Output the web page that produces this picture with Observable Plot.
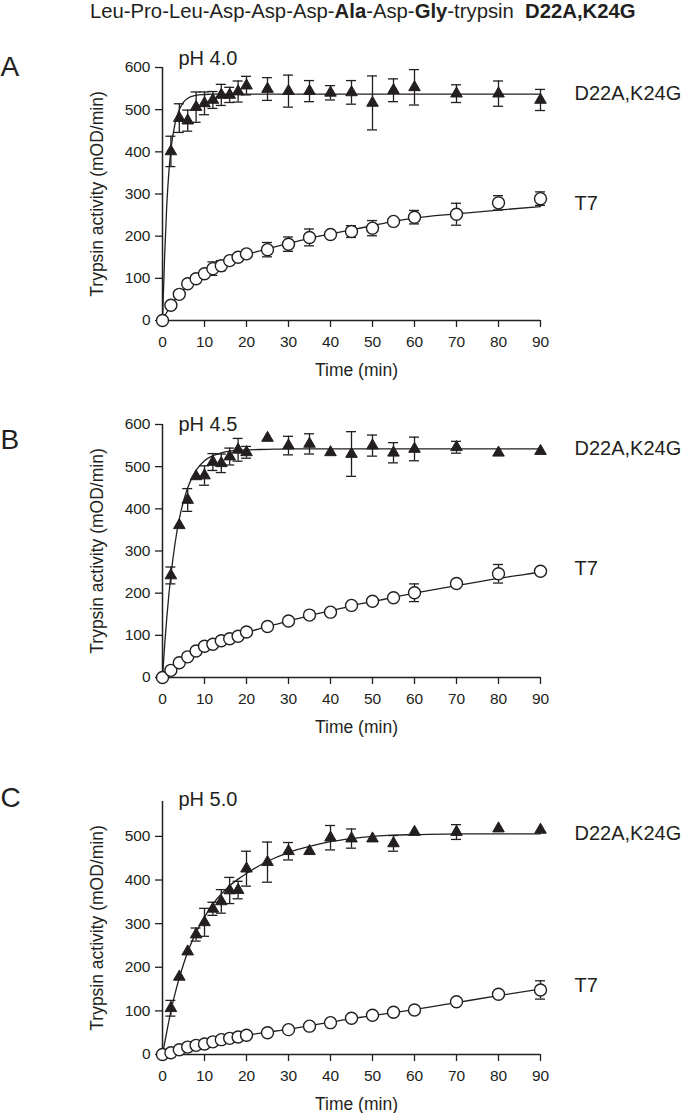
<!DOCTYPE html>
<html><head><meta charset="utf-8">
<script src="https://cdn.jsdelivr.net/npm/d3@7"></script>
<script src="https://cdn.jsdelivr.net/npm/@observablehq/plot@0.6"></script>
<style>
body{margin:0;background:#fff;overflow:hidden;}
#root{position:relative;width:685px;height:1113px;font-family:"Liberation Sans",Arial,Helvetica,sans-serif;color:#231f20;overflow:hidden;}
#title{position:absolute;top:0;left:90px;font-size:20.3px;white-space:nowrap;line-height:22px;}
.panel{position:absolute;left:0;}
</style></head>
<body><div id="root"><div id="title">Leu-Pro-Leu-Asp-Asp-Asp-<b>Ala</b>-Asp-<b>Gly</b>-trypsin&nbsp; <b>D22A,K24G</b></div></div>
<script>
// ---- data ----
const times    = [0, 2, 4, 6, 8, 10, 12, 14, 16, 18, 20, 25, 30, 35, 40, 45, 50, 55, 60, 70, 80, 90];
const triTimes = [2, 4, 6, 8, 10, 12, 14, 16, 18, 20, 25, 30, 35, 40, 45, 50, 55, 60, 70, 80, 90];
const xTicks   = [0, 10, 20, 30, 40, 50, 60, 70, 80, 90];
const yTicksAB = [0, 100, 200, 300, 400, 500, 600];
const yTicksC  = [0, 100, 200, 300, 400, 500];
const seriesNames = ["D22A,K24G", "T7"];
const phLabels = ["pH 4.0", "pH 4.5", "pH 5.0"];
const panelLetters = ["A", "B", "C"];
const yLabel = "Trypsin activity (mOD/min)";
const xLabel = "Time (min)";

// pH 4.0
const triA     = [401, 480, 474, 506, 515, 523, 535, 535, 543, 557, 549, 544, 544, 540, 541, 516, 546, 553, 538, 538, 523];
const triAErr  = [36, 34, 25, 36, 27, 20, 25, 18, 25, 22, 27, 38, 25, 17, 28, 64, 27, 42, 21, 30, 25];
const circA    = [0, 36, 62, 87, 99, 111, 123, 130, 142, 150, 158, 168, 181, 197, 204, 211, 219, 235, 245, 252, 279, 289];
const circAErr = [0, 0, 0, 0, 0, 0, 16, 12, 0, 0, 0, 17, 17, 20, 0, 14, 18, 0, 16, 26, 17, 16];
// pH 4.5
const triB     = [242, 361, 421, 477, 479, 511, 508, 524, 540, 534, 568, 550, 554, 534, 530, 550, 533, 542, 546, 533, 537];
const triBErr  = [20, 0, 27, 0, 23, 20, 22, 20, 27, 14, 0, 22, 24, 0, 53, 25, 24, 28, 14, 0, 0];
const circB    = [0, 17, 35, 49, 63, 74, 79, 87, 92, 98, 108, 121, 134, 148, 155, 171, 181, 189, 201, 223, 246, 252];
const circBErr = [0, 0, 0, 0, 0, 0, 0, 0, 0, 0, 0, 0, 0, 0, 0, 0, 0, 0, 21, 0, 22, 0];
// pH 5.0
const triC     = [106, 178, 236, 275, 303, 334, 351, 376, 377, 426, 441, 466, 466, 497, 495, 495, 484, 510, 510, 518, 515];
const triCErr  = [18, 0, 0, 15, 32, 15, 27, 30, 20, 40, 46, 20, 0, 28, 22, 0, 18, 0, 17, 0, 0];
const circC    = [0, 4, 11, 17, 21, 24, 29, 34, 37, 40, 44, 50, 57, 65, 73, 83, 90, 97, 102, 121, 138, 148];
const circCErr = [0, 0, 0, 0, 0, 0, 0, 0, 0, 0, 0, 0, 0, 0, 0, 0, 0, 0, 0, 0, 0, 21];

// fitted curves
const fitT     = [0, 0.5, 1, 1.5, 2, 3, 4, 5, 6, 8, 10, 12, 14, 16, 18, 20, 25, 30, 35, 40, 45, 50, 55, 60, 70, 80, 90];
const fitTriA  = [0, 150, 270, 350, 405, 468, 500, 518, 527, 534, 536, 537, 537, 537, 537, 537, 537, 537, 537, 537, 537, 537, 537, 537, 537, 537, 537];
const fitCircA = [0, 10, 19, 28, 36, 50, 62, 73, 83, 98, 111, 122, 132, 141, 149, 156, 170, 183, 195, 205, 215, 225, 235, 243, 253, 262, 270];
const fitTriB  = [0, 75, 139, 195, 242, 319, 376, 418, 450, 491, 514, 526, 533, 537, 539, 540, 541, 542, 542, 542, 542, 542, 542, 542, 542, 542, 542];
const fitCircB = [0, 4, 9, 13, 17, 26, 34, 42, 49, 62, 73, 82, 89, 96, 102, 107, 121, 134, 147, 158, 170, 180, 190, 200, 218, 235, 250];
const fitTriC  = [0, 26, 51, 76, 100, 140, 176, 207, 235, 280, 315, 345, 368, 387, 402, 415, 443, 463, 477, 488, 495, 500, 503, 504, 506, 506, 506];
const fitCircC = [0, 1, 2, 3, 4, 7, 9, 12, 14, 19, 24, 28, 32, 36, 40, 44, 51, 58, 66, 74, 82, 89, 96, 103, 119, 135, 150];

// ---- drawing ----
const ink = "#231f20";
const FONT = '"Liberation Sans", Arial, Helvetica, sans-serif';

function panel(p) {
  const tri = triTimes.map((t, i) => ({t, v: p.tri[i], e: p.triErr[i]}));
  const circ = times.map((t, i) => ({t, v: p.circ[i], e: p.circErr[i]}));
  const bars = tri.filter(d => d.e > 0).concat(circ.filter(d => d.e > 0));
  const fTri = fitT.map((t, i) => ({t, v: p.fitTri[i]}));
  const fCirc = fitT.map((t, i) => ({t, v: p.fitCirc[i]}));
  const endTri = [{t: fTri[fTri.length - 1].t, v: fTri[fTri.length - 1].v, name: seriesNames[0]}];
  const endCirc = [{t: fCirc[fCirc.length - 1].t, v: fCirc[fCirc.length - 1].v, name: seriesNames[1]}];
  const sw = 1.3;
  return Plot.plot({
    width: 685, height: 343,
    marginLeft: 162, marginRight: 145, marginTop: 30, marginBottom: 60,
    x: {domain: [0, 90], axis: null},
    y: {domain: [0, p.yMax], axis: null},
    style: {fontFamily: FONT, fontSize: "15.5px", color: ink, background: "white", overflow: "visible"},
    marks: [
      Plot.ruleX([0], {stroke: ink, strokeWidth: 1.5}),
      Plot.ruleY([0], {stroke: ink, strokeWidth: 1.5}),
      Plot.axisX(xTicks, {tickSize: 7, tickPadding: 8, label: null, fontSize: 15.5, stroke: ink, strokeWidth: 1.3}),
      Plot.axisY(p.yTicks, {tickSize: 7, tickPadding: 5, label: null, fontSize: 15.5, stroke: ink, strokeWidth: 1.3}),
      Plot.ruleX(bars, {x: "t", y1: d => d.v - d.e, y2: d => d.v + d.e, stroke: ink, strokeWidth: sw}),
      Plot.ruleY(bars, {y: d => d.v + d.e, x1: "t", x2: "t", insetLeft: -5, insetRight: -5, stroke: ink, strokeWidth: sw}),
      Plot.ruleY(bars, {y: d => d.v - d.e, x1: "t", x2: "t", insetLeft: -5, insetRight: -5, stroke: ink, strokeWidth: sw}),
      Plot.line(fTri, {x: "t", y: "v", curve: "monotone-x", stroke: ink, strokeWidth: sw}),
      Plot.line(fCirc, {x: "t", y: "v", curve: "monotone-x", stroke: ink, strokeWidth: sw}),
      Plot.dot(tri, {x: "t", y: "v", symbol: "triangle", r: 4.3, fill: ink, stroke: ink, strokeWidth: 1}),
      Plot.dot(circ, {x: "t", y: "v", symbol: "circle", r: 6, fill: "white", stroke: ink, strokeWidth: 1.4}),
      Plot.text(endTri, {x: "t", y: "v", text: "name", dx: 34, dy: 0, textAnchor: "start", lineAnchor: "middle", fontSize: 20, fill: ink}),
      Plot.text(endCirc, {x: "t", y: "v", text: "name", dx: 34, dy: -3, textAnchor: "start", lineAnchor: "middle", fontSize: 20, fill: ink}),
      Plot.text([yLabel], {frameAnchor: "left", rotate: -90, dx: -65, fontSize: 17.5, fill: ink, textAnchor: "middle", lineAnchor: "middle"}),
      Plot.text([xLabel], {frameAnchor: "bottom", dx: 5, dy: 50, fontSize: 17.5, fill: ink, lineAnchor: "middle"}),
      Plot.text([p.ph], {frameAnchor: "top-left", dx: 16, dy: p.phDy, fontSize: 20, fill: ink, textAnchor: "start", lineAnchor: "bottom"}),
      Plot.text([p.letter], {frameAnchor: "top-left", dx: -162, dy: p.letterDy, fontSize: 28, fill: ink, textAnchor: "start", lineAnchor: "bottom"})
    ]
  });
}

const panels = [
  {top: 37, yMax: 600, yTicks: yTicksAB, tri: triA, triErr: triAErr, circ: circA, circErr: circAErr, fitTri: fitTriA, fitCirc: fitCircA, ph: phLabels[0], letter: panelLetters[0], phDy: -3, letterDy: 8},
  {top: 394, yMax: 600, yTicks: yTicksAB, tri: triB, triErr: triBErr, circ: circB, circErr: circBErr, fitTri: fitTriB, fitCirc: fitCircB, ph: phLabels[1], letter: panelLetters[1], phDy: 6, letterDy: 24},
  {top: 771, yMax: 580, yTicks: yTicksC, tri: triC, triErr: triCErr, circ: circC, circErr: circCErr, fitTri: fitTriC, fitCirc: fitCircC, ph: phLabels[2], letter: panelLetters[2], phDy: 4, letterDy: 5}
];

const root = document.getElementById("root");
for (const p of panels) {
  const wrap = document.createElement("div");
  wrap.className = "panel";
  wrap.style.top = p.top + "px";
  wrap.appendChild(panel(p));
  root.appendChild(wrap);
}
</script></body></html>
